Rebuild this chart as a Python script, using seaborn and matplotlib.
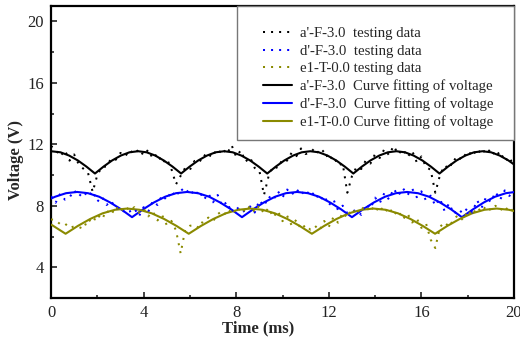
import numpy as np
import pandas as pd
import matplotlib
matplotlib.use("Agg")
import matplotlib.pyplot as plt
from matplotlib.patches import Rectangle
import seaborn as sns

# ---------------- data ----------------
t_test = [0.0, 0.2, 0.4, 0.6, 0.8, 1.0, 1.2, 1.4, 1.6, 1.8,
          2.0, 2.2, 2.4, 2.6, 2.8, 3.0, 3.2, 3.4, 3.6, 3.8,
          4.0, 4.2, 4.4, 4.6, 4.8, 5.0, 5.2, 5.4, 5.6, 5.8,
          6.0, 6.2, 6.4, 6.6, 6.8, 7.0, 7.2, 7.4, 7.6, 7.8,
          8.0, 8.2, 8.4, 8.6, 8.8, 9.0, 9.2, 9.4, 9.6, 9.8,
          10.0, 10.2, 10.4, 10.6, 10.8, 11.0, 11.2, 11.4, 11.6, 11.8,
          12.0, 12.2, 12.4, 12.6, 12.8, 13.0, 13.2, 13.4, 13.6, 13.8,
          14.0, 14.2, 14.4, 14.6, 14.8, 15.0, 15.2, 15.4, 15.6, 15.8,
          16.0, 16.2, 16.4, 16.6, 16.8, 17.0, 17.2, 17.4, 17.6, 17.8,
          18.0, 18.2, 18.4, 18.6, 18.8, 19.0, 19.2, 19.4, 19.6, 19.8, 20.0]

a_test = [11.89, 11.66, 11.22, 11.61, 10.94, 11.34, 10.69, 10.41, 10.14, 8.90,
          10.00, 10.54, 10.55, 11.09, 11.00, 11.44, 11.21, 11.62, 11.36, 11.69,
          11.28, 11.65, 11.06, 11.40, 10.77, 11.07, 10.40, 9.40, 9.95, 10.48,
          10.34, 10.92, 10.81, 11.33, 11.08, 11.57, 11.29, 11.75, 11.36, 11.95,
          11.19, 11.61, 10.87, 11.15, 10.46, 10.29, 8.70, 9.93, 10.58, 10.45,
          11.03, 10.94, 11.47, 11.23, 11.73, 11.37, 11.45, 11.77, 11.33, 11.63,
          10.97, 11.24, 10.63, 10.75, 8.85, 9.93, 10.53, 10.39, 10.96, 10.75,
          11.37, 11.11, 11.69, 11.30, 11.90, 11.35, 11.69, 11.17, 11.58, 10.83,
          11.21, 10.52, 10.34, 8.85, 9.98, 10.63, 10.40, 11.07, 10.87, 11.40,
          11.16, 11.65, 11.28, 11.75, 11.36, 11.72, 11.21, 11.54, 10.90, 11.19, 10.51]

d_test = [8.63, 8.20, 8.79, 8.40, 8.54, 9.01, 8.60, 8.93, 8.58, 8.96,
          8.27, 8.60, 8.05, 8.32, 7.81, 7.91, 7.52, 7.63, 7.83, 7.32,
          7.91, 7.61, 8.32, 8.05, 8.70, 8.37, 8.96, 8.58, 9.15, 8.80,
          9.11, 8.64, 9.00, 8.39, 8.80, 8.23, 8.70, 7.97, 8.26, 7.56,
          7.97, 7.59, 7.68, 7.96, 7.56, 8.36, 7.98, 8.61, 8.36, 8.94,
          8.54, 9.06, 8.72, 9.10, 8.71, 9.05, 8.62, 8.91, 8.33, 8.67,
          8.03, 8.41, 7.71, 8.01, 7.52, 7.64, 7.72, 7.41, 8.11, 7.81,
          8.53, 8.17, 8.83, 8.41, 9.12, 8.65, 9.15, 8.70, 9.12, 8.56,
          8.94, 8.34, 8.66, 8.01, 8.48, 7.66, 8.16, 7.46, 7.78, 7.49,
          7.87, 7.56, 8.36, 7.87, 8.59, 8.23, 8.90, 8.39, 9.00, 8.64, 9.01]

e_test = [7.12, 7.05, 6.80, 6.85, 6.56, 6.66, 6.62, 6.50, 7.13, 6.88,
          7.43, 7.11, 7.70, 7.41, 7.95, 7.60, 7.98, 7.68, 7.91, 7.55,
          7.82, 7.31, 7.62, 7.05, 7.39, 6.75, 7.02, 6.40, 4.90, 6.47,
          6.70, 6.75, 6.55, 7.10, 7.23, 7.00, 7.45, 7.68, 7.36, 7.86,
          7.49, 7.93, 7.59, 8.00, 7.59, 8.02, 7.48, 7.86, 7.25, 7.67,
          7.00, 7.35, 6.71, 7.09, 6.47, 6.76, 6.45, 6.70, 6.40, 7.01,
          6.63, 7.26, 6.90, 7.56, 7.23, 7.82, 7.43, 7.96, 7.61, 8.02,
          7.58, 8.00, 7.54, 7.91, 7.39, 7.70, 7.12, 7.50, 6.91, 7.18,
          6.56, 6.85, 5.80, 5.25, 6.62, 6.93, 6.62, 7.15, 7.40, 7.05,
          7.71, 7.38, 7.90, 7.60, 8.00, 7.70, 8.00, 7.69, 7.98, 7.57, 7.84]

a_fit_t = [0.00, 0.41, 0.78, 1.16, 1.53, 1.90, 2.27, 2.64, 3.02, 3.39,
           3.76, 4.13, 4.50, 4.87, 5.25, 5.62, 5.99, 6.36, 6.74, 7.11,
           7.48, 7.85, 8.22, 8.60, 8.97, 9.34, 9.71, 10.08, 10.46, 10.83,
           11.20, 11.57, 11.94, 12.32, 12.69, 13.06, 13.43, 13.80, 14.18, 14.55,
           14.92, 15.29, 15.66, 16.04, 16.41, 16.78, 17.15, 17.52, 17.90, 18.27,
           18.64, 19.01, 19.38, 19.76, 20.00]
a_fit_v = [11.55, 11.48, 11.27, 10.95, 10.55, 10.10, 10.55, 10.95, 11.27, 11.48,
           11.55, 11.48, 11.27, 10.95, 10.55, 10.10, 10.55, 10.95, 11.27, 11.48,
           11.55, 11.48, 11.27, 10.95, 10.55, 10.10, 10.55, 10.95, 11.27, 11.48,
           11.55, 11.48, 11.27, 10.95, 10.55, 10.10, 10.55, 10.95, 11.27, 11.48,
           11.55, 11.48, 11.27, 10.95, 10.55, 10.10, 10.55, 10.95, 11.27, 11.48,
           11.55, 11.48, 11.27, 10.95, 10.69]

d_fit_t = [0.00, 0.18, 0.65, 1.13, 1.60, 2.08, 2.55, 3.03, 3.50, 3.98,
           4.45, 4.93, 5.40, 5.88, 6.35, 6.83, 7.30, 7.78, 8.25, 8.73,
           9.20, 9.68, 10.15, 10.63, 11.10, 11.58, 12.05, 12.53, 13.00, 13.48,
           13.95, 14.43, 14.90, 15.38, 15.85, 16.33, 16.80, 17.28, 17.75, 18.23,
           18.70, 19.18, 19.65, 20.00]
d_fit_v = [8.47, 8.59, 8.82, 8.90, 8.82, 8.59, 8.22, 7.77, 7.26, 7.77,
           8.22, 8.59, 8.82, 8.90, 8.82, 8.59, 8.22, 7.77, 7.26, 7.77,
           8.22, 8.59, 8.82, 8.90, 8.82, 8.59, 8.22, 7.77, 7.26, 7.77,
           8.22, 8.59, 8.82, 8.90, 8.82, 8.59, 8.22, 7.77, 7.26, 7.77,
           8.22, 8.59, 8.82, 8.89]

e_fit_t = [0.00, 0.10, 0.63, 1.16, 1.69, 2.23, 2.76, 3.29, 3.82, 4.35,
           4.89, 5.42, 5.95, 6.48, 7.01, 7.55, 8.08, 8.61, 9.14, 9.67,
           10.21, 10.74, 11.27, 11.80, 12.33, 12.87, 13.40, 13.93, 14.46, 14.99,
           15.53, 16.06, 16.59, 17.12, 17.65, 18.19, 18.72, 19.25, 19.78, 20.00]
e_fit_v = [6.78, 6.69, 6.18, 6.69, 7.14, 7.51, 7.74, 7.82, 7.74, 7.51,
           7.14, 6.69, 6.18, 6.69, 7.14, 7.51, 7.74, 7.82, 7.74, 7.51,
           7.14, 6.69, 6.18, 6.69, 7.14, 7.51, 7.74, 7.82, 7.74, 7.51,
           7.14, 6.69, 6.18, 6.69, 7.14, 7.51, 7.74, 7.82, 7.74, 7.66]

test_labels = ["a'-F-3.0  testing data", "d'-F-3.0  testing data", "e1-T-0.0 testing data"]
fit_labels = ["a'-F-3.0  Curve fitting of voltage", "d'-F-3.0  Curve fitting of voltage",
              "e1-T-0.0 Curve fitting of voltage"]
colors = ["#000000", "#0000ff", "#8a8a00"]
x_ticks = [0, 4, 8, 12, 16, 20]
y_ticks = [4, 8, 12, 16, 20]
x_minor = [2, 6, 10, 14, 18]
y_minor = [6, 10, 14, 18]

# ---------------- figure ----------------
sns.set_theme(style="ticks")
plt.rcParams["font.family"] = ["Liberation Serif", "DejaVu Serif"]

fig = plt.figure(figsize=(5.2, 3.39), dpi=100)
ax = fig.add_axes([51 / 520, 41 / 339, 463 / 520, 292 / 339])

tests = [a_test, d_test, e_test]
fits = [(a_fit_t, a_fit_v), (d_fit_t, d_fit_v), (e_fit_t, e_fit_v)]

for vals, c, lab in zip(tests, colors, test_labels):
    df = pd.DataFrame({"t": t_test, "v": vals})
    sns.lineplot(data=df, x="t", y="v", ax=ax, color=c, lw=1.45,
                 linestyle=(0, (1, 3.0)), label=lab, estimator=None,
                 sort=False, zorder=4)

for (ft, fv), c, lab in zip(fits, colors, fit_labels):
    df = pd.DataFrame({"t": ft, "v": fv})
    sns.lineplot(data=df, x="t", y="v", ax=ax, color=c, lw=1.5,
                 label=lab, estimator=None, sort=False, zorder=3)

ax.set_xlim(0, 20)
ax.set_ylim(2, 21)
ax.set_xticks(x_ticks)
ax.set_yticks(y_ticks)
ax.set_xticks(x_minor, minor=True)
ax.set_yticks(y_minor, minor=True)
ax.tick_params(axis="both", which="major", direction="in", length=4, width=1.2,
               labelsize=12, colors="#222222", pad=5)
ax.tick_params(axis="both", which="minor", direction="in", length=2.5, width=1.2)
for sp in ax.spines.values():
    sp.set_linewidth(1.6)
    sp.set_color("black")
    sp.set_visible(True)

ax.set_xlabel("Time (ms)", fontsize=12, fontweight="bold")
ax.set_ylabel("Voltage (V)", fontsize=12, fontweight="bold")
ax.xaxis.set_label_coords(0.447, -0.075)
ax.yaxis.set_label_coords(-0.058, 0.474)

# legend frame (grey box joined to the top/right spines)
ax.add_patch(Rectangle((0.4017, 0.541), 0.5983, 0.459, transform=ax.transAxes,
                       facecolor="white", edgecolor="#777777", lw=1.0,
                       zorder=5, clip_on=False))
leg = ax.legend(loc="upper left", bbox_to_anchor=(0.458, 0.928), borderaxespad=0,
                fontsize=10.6, handlelength=1.95, handletextpad=0.55,
                labelspacing=0.28, borderpad=0, frameon=False)
leg.set_zorder(6)

fig.savefig("out.png", dpi=100)
